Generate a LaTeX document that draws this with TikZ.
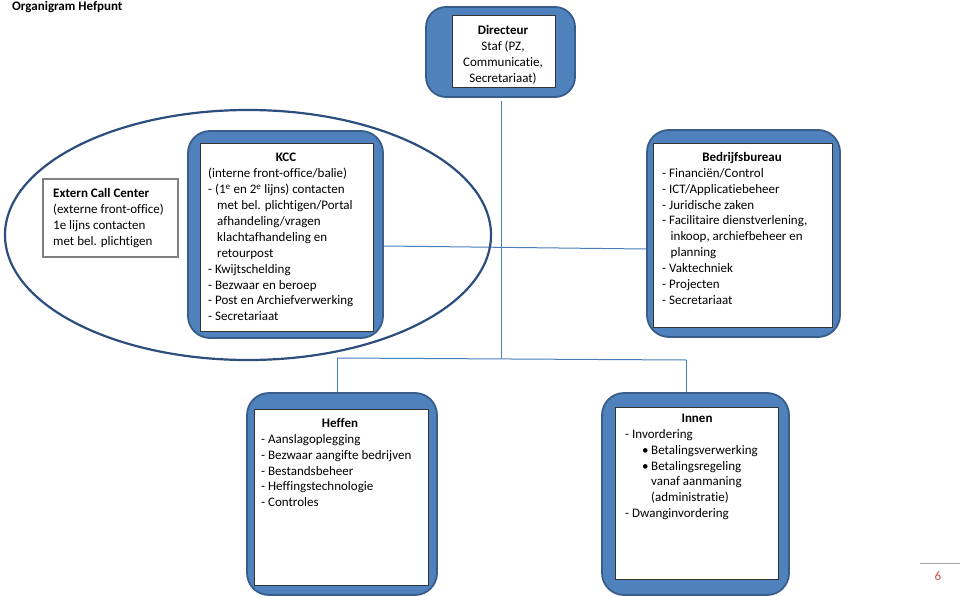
\documentclass[tikz,border=0pt]{standalone}
\usepackage{fontspec}
\setmainfont{Carlito}[Ligatures=NoCommon]
\usetikzlibrary{fit}
\definecolor{boxblue}{HTML}{4F81BD}
\definecolor{boxedge}{HTML}{385D8A}
\definecolor{linecol}{HTML}{4A7EBB}
\definecolor{ellcol}{HTML}{2C4D7E}
\definecolor{inneredge}{HTML}{333333}
\definecolor{extedge}{HTML}{808080}
\definecolor{pagered}{HTML}{C0504D}
\definecolor{rulegray}{HTML}{A6A6A6}
\tikzset{
  outerbox/.style={draw=boxedge, fill=boxblue, line width=1.8pt, rounded corners=22pt, inner sep=0pt},
  innerbox/.style={draw=inneredge, fill=white, line width=0.7pt, inner sep=0pt},
  extbox/.style={draw=extedge, fill=white, line width=1.2pt, inner sep=0pt},
  txt/.style={font=\fontsize{13}{15.9}\selectfont, align=left, inner sep=0pt, anchor=north west},
  ttl/.style={font=\bfseries\fontsize{13}{15.9}\selectfont, inner sep=0pt},
  conn/.style={draw=linecol, line width=1pt},
}
\begin{document}
\begin{tikzpicture}[x=1pt,y=-1pt]
\useasboundingbox (0,0) rectangle (960,596);

% title
\node[anchor=west, font=\bfseries\fontsize{13}{15}\selectfont, inner sep=0pt] (title) at (12,7) {Organigram Hefpunt};

% Directeur
\node[outerbox, rounded corners=20pt, fit={(426,7)(575,97)}] (dir) {};
\node[innerbox, fit={(452,15)(555,87)}] (diri) {};
\node[txt, align=center, anchor=north] (dirt) at (503,25) {\textbf{Directeur}\\Staf (PZ,\\Communicatie,\\Secretariaat)};

% Extern Call Center
\node[extbox, fit={(43,179)(178,257)}] (ecc) {};
\node[txt] (ecct) at (53,188) {\textbf{Extern Call Center}\\(externe front-office)\\1e lijns contacten\\met bel. plichtigen};

% KCC
\node[outerbox, fit={(188,131)(383,338)}] (kcc) {};
\node[innerbox, fit={(200,143)(373,331)}] (kcci) {};
\node[ttl] (kcch) at (286,157) {KCC};
\node[txt] (kcct) at (208,168) {(interne front-office/balie)\\
- (1\textsuperscript{e} en 2\textsuperscript{e} lijns) contacten\\
\hspace*{9pt}met bel. plichtigen/Portal\\
\hspace*{9pt}afhandeling/vragen\\
\hspace*{9pt}klachtafhandeling en\\
\hspace*{9pt}retourpost\\
- Kwijtschelding\\
- Bezwaar en beroep\\
- Post en Archiefverwerking\\
- Secretariaat};

% Bedrijfsbureau
\node[outerbox, fit={(647,130)(840,337)}] (bb) {};
\node[innerbox, fit={(653,143)(832,327)}] (bbi) {};
\node[ttl] (bbh) at (742,158) {Bedrijfsbureau};
\node[txt] (bbt) at (662,168) {- Financiën/Control\\
- ICT/Applicatiebeheer\\
- Juridische zaken\\
- Facilitaire dienstverlening,\\
\hspace*{8.5pt}inkoop, archiefbeheer en\\
\hspace*{8.5pt}planning\\
- Vaktechniek\\
- Projecten\\
- Secretariaat};

% Heffen
\node[outerbox, fit={(247,393)(437,595)}] (hef) {};
\node[innerbox, fit={(254,409)(428,585)}] (hefi) {};
\node[ttl] (hefh) at (340,423) {Heffen};
\node[txt] (heft) at (261,434) {- Aanslagoplegging\\
- Bezwaar aangifte bedrijven\\
- Bestandsbeheer\\
- Heffingstechnologie\\
- Controles};

% Innen
\node[outerbox, fit={(602,393)(789,595)}] (inn) {};
\node[innerbox, fit={(615,407)(778,579)}] (inni) {};
\node[ttl] (innh) at (697,418) {Innen};
\node[txt] (innt) at (625,429) {- Invordering\\
\hspace*{26pt}\llap{\textbullet\hspace{2.5pt}}Betalingsverwerking\\
\hspace*{26pt}\llap{\textbullet\hspace{2.5pt}}Betalingsregeling\\
\hspace*{26pt}vanaf aanmaning\\
\hspace*{26pt}(administratie)\\
- Dwanginvordering};

% connectors
\coordinate (hl) at (0,246);
\coordinate (hr) at (0,249);
\coordinate (busL) at (337,358);
\coordinate (busR) at (686,360);
\coordinate (jn) at (501,358);
\coordinate (dirstart) at (501,101);
\draw[conn] (dirstart) -- (dirstart |- jn);
\draw[conn] (kcc.east |- hl) -- (bb.west |- hr);
\draw[conn] (busL) -- (busR);
\draw[conn] (busL) -- (busL |- hef.north);
\draw[conn] (busR) -- (busR |- inn.north);

% ellipse grouping
\draw[ellcol, line width=2.2pt] (248,235) ellipse [x radius=243pt, y radius=125pt];

% page number
\coordinate (ruleL) at (920,563);
\coordinate (ruleR) at (960,563);
\draw[rulegray, line width=0.8pt] (ruleL) -- (ruleR);
\node[text=pagered, font=\fontsize{13}{15}\selectfont, inner sep=0pt] (pg) at (938,576) {6};
\end{tikzpicture}
\end{document}
